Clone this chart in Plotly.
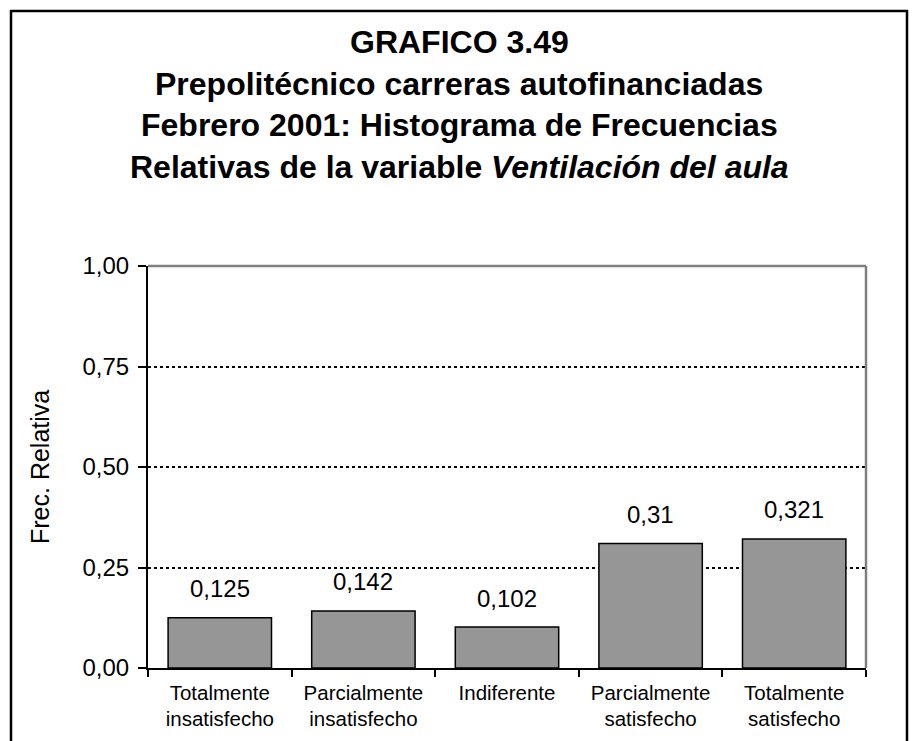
import plotly.graph_objects as go

# Categorías de la variable y frecuencias relativas
categorias = [
    "Totalmente<br>insatisfecho",
    "Parcialmente<br>insatisfecho",
    "Indiferente",
    "Parcialmente<br>satisfecho",
    "Totalmente<br>satisfecho",
]
frecuencias = [0.125, 0.142, 0.102, 0.31, 0.321]
ticks_y = [0, 0.25, 0.5, 0.75, 1.0]
titulo = [
    "<b>GRAFICO 3.49</b>",
    "<b>Prepolitécnico carreras autofinanciadas</b>",
    "<b>Febrero 2001: Histograma de Frecuencias</b>",
    "<b>Relativas de la variable <i>Ventilación del aula</i></b>",
]

FONT = "Arial, Liberation Sans, sans-serif"
W, H = 915, 741
ML, MR, MT, MB = 148, 49, 266, 73
PW, PH = W - ML - MR, H - MT - MB


def px(x):
    return (x - ML) / PW


def py(y):
    return (H - MB - y) / PH


fig = go.Figure()
fig.add_trace(go.Bar(
    x=categorias,
    y=frecuencias,
    marker=dict(color="#969696", line=dict(color="black", width=1.5)),
    hoverinfo="skip",
))

annotations = []
for c, v in zip(categorias, frecuencias):
    annotations.append(dict(
        x=c, y=v, xref="x", yref="y",
        text=f"{v:g}".replace(".", ","),
        showarrow=False, yanchor="middle", yshift=29,
        font=dict(family=FONT, size=24, color="black"),
    ))

for i, linea in enumerate(titulo):
    annotations.append(dict(
        x=px(459), y=py(42 + i * 41.7), xref="paper", yref="paper",
        text=linea, showarrow=False, xanchor="center", yanchor="middle",
        font=dict(family=FONT, size=32, color="black"),
    ))

annotations.append(dict(
    x=px(40), y=0.5, xref="paper", yref="paper",
    text="Frec. Relativa", textangle=-90, showarrow=False,
    xanchor="center", yanchor="middle",
    font=dict(family=FONT, size=25, color="black"),
))

shapes = [
    # borde superior y derecho del área de trazado
    dict(type="line", xref="paper", yref="paper", x0=0, x1=1, y0=1, y1=1,
         line=dict(color="#808080", width=2.5), layer="above"),
    dict(type="line", xref="paper", yref="paper", x0=1, x1=1, y0=0, y1=1,
         line=dict(color="#808080", width=2.5), layer="above"),
    # marco exterior del gráfico
    dict(type="rect", xref="paper", yref="paper",
         x0=px(11), x1=px(907), y0=py(780), y1=py(11),
         line=dict(color="black", width=2.5), layer="above"),
]

fig.update_layout(
    width=W, height=H,
    margin=dict(l=ML, r=MR, t=MT, b=MB, pad=0),
    paper_bgcolor="white", plot_bgcolor="white",
    separators=",.",
    bargap=0.28,
    showlegend=False,
    annotations=annotations,
    shapes=shapes,
    font=dict(family=FONT, color="black"),
)
fig.update_xaxes(
    showline=True, linecolor="black", linewidth=2,
    ticks="outside", tickson="boundaries", ticklen=7, tickwidth=2, tickcolor="black",
    ticklabelstandoff=5,
    tickfont=dict(family=FONT, size=20.5, color="black"),
    showgrid=False, fixedrange=True,
)
fig.update_yaxes(
    range=[0, 1], tickvals=ticks_y, tickformat=".2f",
    showline=True, linecolor="black", linewidth=2,
    ticks="outside", ticklen=8, tickwidth=2, tickcolor="black",
    ticklabelstandoff=4,
    tickfont=dict(family=FONT, size=24, color="black"),
    showgrid=True, gridcolor="black", gridwidth=1.5, griddash="dot",
    zeroline=False, fixedrange=True,
)

fig.write_html("out.html")
